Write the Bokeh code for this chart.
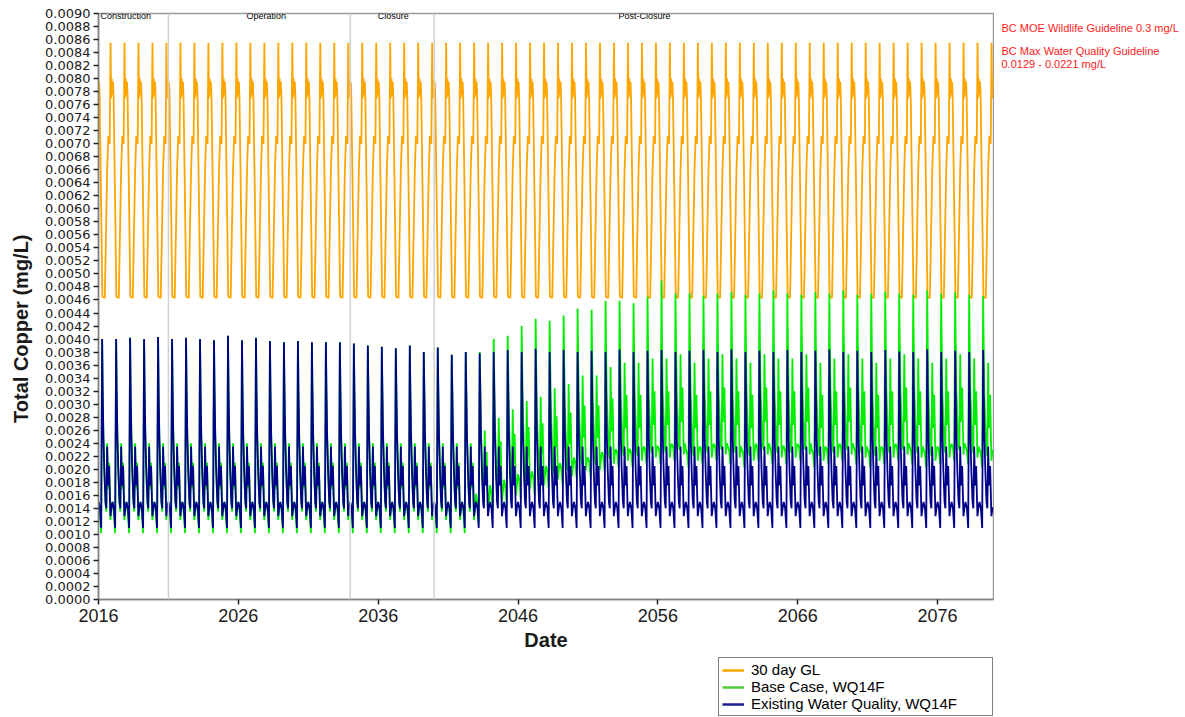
from bokeh.plotting import figure
from bokeh.layouts import row, column
from bokeh.models import (Span, Label, Legend, LegendItem, FixedTicker,
                          PrintfTickFormatter, AllLabels, ColumnDataSource)
from bokeh.core.properties import value
from bokeh.embed import file_html
from bokeh.resources import INLINE

# ---------------- data ----------------
years = list(range(2016, 2080))

# annual freshet peak of each modelled series (mg/L)
blue_peak = [
    0.00400, 0.00400, 0.00402, 0.00400, 0.00403, 0.00400, 0.00402, 0.00400, 0.00398, 0.00405,
    0.00398, 0.00402, 0.00397, 0.00395, 0.00397, 0.00395, 0.00395, 0.00395, 0.00393, 0.00390,
    0.00388, 0.00386, 0.00390, 0.00380, 0.00387, 0.00376, 0.00380, 0.00378, 0.00380, 0.00383,
    0.00380, 0.00385, 0.00380, 0.00383, 0.00380, 0.00382, 0.00380, 0.00384, 0.00380, 0.00382,
    0.00383, 0.00380, 0.00382, 0.00383, 0.00380, 0.00384, 0.00380, 0.00382, 0.00380, 0.00383,
    0.00380, 0.00382, 0.00384, 0.00380, 0.00382, 0.00380, 0.00383, 0.00381, 0.00380, 0.00384,
    0.00380, 0.00382, 0.00380, 0.00383]
green_peak = [
    0.00400, 0.00400, 0.00402, 0.00400, 0.00403, 0.00400, 0.00402, 0.00400, 0.00398, 0.00405,
    0.00398, 0.00402, 0.00397, 0.00395, 0.00397, 0.00395, 0.00395, 0.00395, 0.00393, 0.00390,
    0.00388, 0.00386, 0.00390, 0.00380, 0.00387, 0.00376, 0.00380, 0.00380, 0.00400, 0.00405,
    0.00420, 0.00431, 0.00428, 0.00436, 0.00447, 0.00445, 0.00459, 0.00459, 0.00455, 0.00465,
    0.00490, 0.00470, 0.00470, 0.00467, 0.00470, 0.00472, 0.00468, 0.00470, 0.00475, 0.00470,
    0.00468, 0.00472, 0.00470, 0.00475, 0.00468, 0.00470, 0.00473, 0.00470, 0.00468, 0.00475,
    0.00470, 0.00472, 0.00468, 0.00466]
# share of the post-closure (raised) base-case regime reached in each year
green_lift = [
    0, 0, 0, 0, 0, 0, 0, 0, 0, 0,
    0, 0, 0, 0, 0, 0, 0, 0, 0, 0,
    0, 0, 0, 0, 0, 0, 0, 0.15, 0.30, 0.40,
    0.50, 0.55, 0.65, 0.70, 0.80, 0.80, 0.90, 0.95, 0.95, 1.00,
    1.00, 1.05, 0.95, 1.00, 1.05, 1.00, 0.95, 1.05, 1.00, 1.00,
    1.05, 0.95, 1.00, 1.05, 1.00, 0.95, 1.00, 1.05, 1.00, 0.95,
    1.00, 1.05, 1.00, 0.95]

# typical within-year pattern (fraction of year -> mg/L); index 3 is the peak
season = [0.00, 0.10, 0.19, 0.26, 0.30, 0.35, 0.42, 0.50, 0.56, 0.62, 0.68, 0.76, 0.85, 0.93]
blue_season = [0.00150, 0.00140, 0.00110, None, 0.00320, 0.00250, 0.00195, 0.00150,
               0.00140, 0.00235, 0.00175, 0.00205, 0.00128, 0.00142]
green_early = [0.00150, 0.00135, 0.00102, None, 0.00325, 0.00255, 0.00200, 0.00148,
               0.00135, 0.00240, 0.00170, 0.00210, 0.00122, 0.00140]
green_late = [0.00235, 0.00228, 0.00208, None, 0.00390, 0.00315, 0.00275, 0.00232,
              0.00225, 0.00370, 0.00268, 0.00320, 0.00218, 0.00235]

# 30 day guideline within-year pattern
gl_season = [0.00, 0.04, 0.08, 0.28, 0.45, 0.62, 0.70, 0.80, 0.86, 0.90, 0.95]
gl_values = [0.00775, 0.00795, 0.00772, 0.00465, 0.00463, 0.00660, 0.00712, 0.00700,
             0.00855, 0.00770, 0.00800]

phase_names = ["Construction", "Operation", "Closure", "Post-Closure"]
phase_bounds = [2021, 2034, 2040]

series_names = ["30 day GL", "Base Case, WQ14F", "Existing Water Quality, WQ14F"]
series_colors = ["#ffa500", "#00ee00", "#00008b"]
legend_colors = ["#ffa500", "#55c83c", "#1c1c8c"]
x_ticks = [2016, 2026, 2036, 2046, 2056, 2066, 2076]
y_ticks = [0.0000, 0.0002, 0.0004, 0.0006, 0.0008, 0.0010, 0.0012, 0.0014, 0.0016, 0.0018,
           0.0020, 0.0022, 0.0024, 0.0026, 0.0028, 0.0030, 0.0032, 0.0034, 0.0036, 0.0038,
           0.0040, 0.0042, 0.0044, 0.0046, 0.0048, 0.0050, 0.0052, 0.0054, 0.0056, 0.0058,
           0.0060, 0.0062, 0.0064, 0.0066, 0.0068, 0.0070, 0.0072, 0.0074, 0.0076, 0.0078,
           0.0080, 0.0082, 0.0084, 0.0086, 0.0088, 0.0090]

notes = ["BC MOE Wildlife Guideline 0.3 mg/L", "BC Max Water Quality Guideline",
         "0.0129 - 0.0221 mg/L"]

# ---------------- assemble series ----------------
gl_t, gl_v = [], []
bl_t, bl_v = [], []
gr_t, gr_v = [], []
for i, yr in enumerate(years):
    for f, v in zip(gl_season, gl_values):
        gl_t.append(yr + f)
        gl_v.append(v)
    for j, f in enumerate(season):
        bl_t.append(yr + f)
        gr_t.append(yr + f)
        if j == 3:
            bl_v.append(blue_peak[i])
            gr_v.append(green_peak[i])
        else:
            bl_v.append(blue_season[j])
            gr_v.append(green_early[j] + green_lift[i] * (green_late[j] - green_early[j]))

src_gl = ColumnDataSource(dict(t=gl_t, v=gl_v))
src_bl = ColumnDataSource(dict(t=bl_t, v=bl_v))
src_gr = ColumnDataSource(dict(t=gr_t, v=gr_v))

# ---------------- main figure ----------------
FONT = "Liberation Sans"
TOP_H = 656
LEG_H = 60
MAIN_W = 994
p = figure(width=MAIN_W, height=TOP_H, x_range=(2016, 2080), y_range=(0, 0.009),
           output_backend="svg", toolbar_location=None,
           min_border_left=98, min_border_right=1, min_border_top=13, min_border_bottom=57,
           background_fill_color="white", border_fill_color="white")
p.xgrid.visible = False
p.ygrid.visible = False
p.outline_line_color = "#9a9a9a"
p.outline_line_width = 1.5

for b in phase_bounds:
    p.add_layout(Span(location=b, dimension="height", line_color="#d0d0d0", line_width=1.5))

p.line("t", "v", source=src_gl, line_color=series_colors[0], line_width=1.8)
p.line("t", "v", source=src_gr, line_color=series_colors[1], line_width=1.8)
p.line("t", "v", source=src_bl, line_color=series_colors[2], line_width=1.8)

# axes
p.xaxis.ticker = FixedTicker(ticks=x_ticks)
p.xaxis.formatter = PrintfTickFormatter(format="%d")
p.yaxis.ticker = FixedTicker(ticks=y_ticks)
p.yaxis.formatter = PrintfTickFormatter(format="%.4f")
p.yaxis.major_label_policy = AllLabels()
for ax in (p.xaxis[0], p.yaxis[0]):
    ax.axis_line_color = "#808080"
    ax.axis_line_width = 1.5
    ax.major_tick_line_color = "#222222"
    ax.major_tick_line_width = 1.5
    ax.major_tick_out = 5
    ax.major_tick_in = 0
    ax.minor_tick_line_color = None
    ax.major_label_text_color = "#1a1a1a"
    ax.axis_label_text_font = FONT
    ax.axis_label_text_font_style = "bold"
    ax.axis_label_text_font_size = "20px"
    ax.axis_label_text_color = "#1a1a1a"
p.xaxis.major_label_text_font = FONT
p.xaxis.major_label_text_font_size = "18px"
p.xaxis.major_label_standoff = 4
p.xaxis.axis_label = "Date"
p.xaxis.axis_label_standoff = 4
p.yaxis.major_label_text_font = "DejaVu Sans"
p.yaxis.major_label_text_font_size = "13px"
p.yaxis.major_label_standoff = 3
# trailing no-break spaces nudge the rotated title a little lower, as in the reference
p.yaxis.axis_label = "Total Copper (mg/L)" + "\u00a0" * 8
p.yaxis.axis_label_standoff = 10

# phase labels along the top of the frame
phase_x = [2016.14, 2028.0, 2037.07, 2055.05]
phase_align = ["left", "center", "center", "center"]
for name, xx, al in zip(phase_names, phase_x, phase_align):
    p.add_layout(Label(x=xx, y=0.00896, text=name, text_font=FONT, text_font_size="9px",
                       text_color="#000000", text_align=al, text_baseline="middle"))

# ---------------- side panel with the red guideline notes ----------------
q = figure(width=1185 - MAIN_W, height=TOP_H, x_range=(0, 1185 - MAIN_W), y_range=(TOP_H, 0),
           output_backend="svg", toolbar_location=None,
           x_axis_location=None, y_axis_location=None,
           min_border_left=0, min_border_right=0, min_border_top=0, min_border_bottom=0,
           background_fill_color="white", border_fill_color="white")
q.grid.visible = False
q.outline_line_color = None
note_x = [7, 7, 7]
note_y = [16, 42, 57]
q.text(x=note_x, y=note_y, text=notes, text_font=value(FONT), text_font_size="11px",
       text_color="#ff1a1a", text_align="left", text_baseline="middle")

# ---------------- legend strip below the axis ----------------
r = figure(width=MAIN_W, height=LEG_H, x_range=(0, 1), y_range=(0, 1),
           output_backend="svg", toolbar_location=None,
           x_axis_location=None, y_axis_location=None,
           min_border_left=0, min_border_right=0, min_border_top=0, min_border_bottom=0,
           background_fill_color="white", border_fill_color="white")
r.grid.visible = False
r.outline_line_color = None
items = []
for name, col in zip(series_names, legend_colors):
    # stand-in renderer kept outside the visible range; it only supplies the legend swatch
    rr = r.line(x=[-5, -4], y=[-5, -5], line_color=col, line_width=2.5)
    items.append(LegendItem(label=name, renderers=[rr]))
legend = Legend(items=items, location="top_right", orientation="vertical")
legend.border_line_color = "#000000"
legend.border_line_width = 1
legend.padding = 3
legend.spacing = 0
legend.margin = 1
legend.label_text_font = FONT
legend.label_text_font_size = "15px"
legend.label_text_color = "#000000"
legend.label_standoff = 7
legend.glyph_width = 22
legend.glyph_height = 16
legend.label_height = 16
legend.label_width = 238
legend.background_fill_alpha = 1.0
r.add_layout(legend)

layout = column(row(p, q), r)
open("out.html", "w").write(file_html(layout, INLINE))
